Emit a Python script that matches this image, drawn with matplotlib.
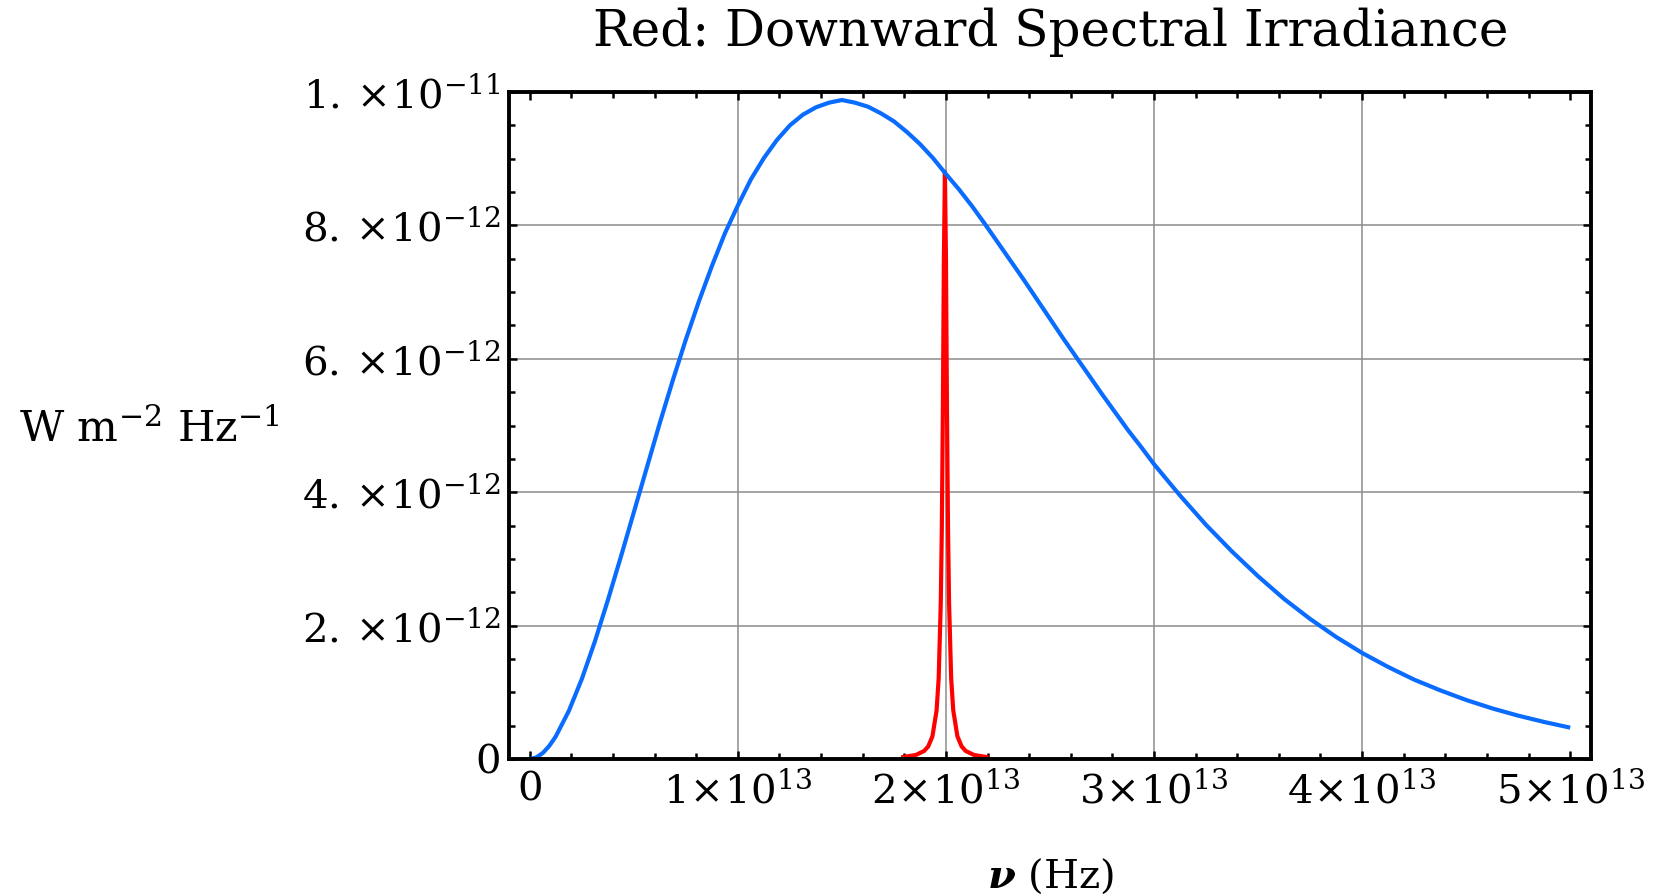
import numpy as np
import matplotlib
matplotlib.use('Agg')
import matplotlib.pyplot as plt
from matplotlib.ticker import FixedLocator, MultipleLocator

plt.rcParams['font.family'] = ['DejaVu Serif']
plt.rcParams['mathtext.fontset'] = 'dejavuserif'

# frequency in units of 1e13 Hz, irradiance in units of 1e-12 W m^-2 Hz^-1
nu_blue = [0, 0.03125, 0.0625, 0.09375, 0.125, 0.1875, 0.25, 0.3125, 0.375, 0.4375, 0.5,
           0.5625, 0.625, 0.6875, 0.75, 0.8125, 0.875, 0.9375, 1.0,
           1.0625, 1.125, 1.1875, 1.25, 1.3125, 1.375, 1.4375, 1.5, 1.5625,
           1.625, 1.6875, 1.75, 1.8125, 1.875, 1.9375, 2.0, 2.0625, 2.125,
           2.1875, 2.25, 2.3125, 2.375, 2.4375, 2.5, 2.5625, 2.625, 2.6875,
           2.75, 2.8125, 2.875, 2.9375, 3.0, 3.125, 3.25, 3.375, 3.5, 3.625,
           3.75, 3.875, 4.0, 4.125, 4.25, 4.375, 4.5, 4.625, 4.75, 4.875, 5.0]
irr_blue = [0, 0.023, 0.09, 0.197, 0.34, 0.72, 1.20, 1.76, 2.38, 3.03, 3.70,
            4.37, 5.04, 5.68, 6.29, 6.86, 7.39, 7.88, 8.30,
            8.69, 9.01, 9.28, 9.50, 9.66, 9.77, 9.84, 9.88, 9.84,
            9.78, 9.68, 9.56, 9.40, 9.22, 9.01, 8.77, 8.54, 8.29,
            8.02, 7.74, 7.46, 7.18, 6.89, 6.60, 6.31, 6.03, 5.75,
            5.47, 5.20, 4.93, 4.68, 4.42, 3.95, 3.51, 3.11, 2.74, 2.40,
            2.10, 1.83, 1.59, 1.38, 1.19, 1.03, 0.885, 0.759, 0.650, 0.555, 0.47]

nu_red = [1.795, 1.855, 1.895, 1.915, 1.935, 1.955, 1.965, 1.975, 1.98,
          1.985, 1.99, 1.995, 2.0, 2.005, 2.01, 2.015, 2.025, 2.035, 2.055,
          2.075, 2.095, 2.135, 2.195]
irr_red = [0.03, 0.06, 0.12, 0.19, 0.34, 0.73, 1.21, 2.33, 3.43,
           5.19, 7.50, 8.80, 7.50, 5.19, 3.43, 2.33, 1.21, 0.73, 0.34,
           0.19, 0.12, 0.06, 0.03]

xticks = [0, 1, 2, 3, 4, 5]
xtick_labels = ['0', r'$1\!\times\!10^{13}$', r'$2\!\times\!10^{13}$', r'$3\!\times\!10^{13}$',
                r'$4\!\times\!10^{13}$', r'$5\!\times\!10^{13}$']
yticks = [0, 2, 4, 6, 8, 10]
ytick_labels = ['0', r'$2.\times\!10^{-12}$', r'$4.\times\!10^{-12}$', r'$6.\times\!10^{-12}$',
                r'$8.\times\!10^{-12}$', r'$1.\times\!10^{-11}$']

x_b = np.array(nu_blue) * 1e13
y_b = np.array(irr_blue) * 1e-12
x_r = np.array(nu_red) * 1e13
y_r = np.array(irr_red) * 1e-12

fig = plt.figure(figsize=(16.65, 8.96), dpi=100)
ax = fig.add_axes([509 / 1665, 1 - 759 / 896, 1082 / 1665, 667 / 896])

ax.plot(x_r, y_r, color='#ff0000', lw=3, zorder=3)
ax.plot(x_b, y_b, color='#0a6cff', lw=3, zorder=4, solid_capstyle='butt')

ax.set_xlim(-0.1e13, 5.1e13)
ax.set_ylim(0, 1.0e-11)

ax.xaxis.set_major_locator(FixedLocator([v * 1e13 for v in xticks]))
ax.set_xticklabels(xtick_labels)
ax.xaxis.set_minor_locator(MultipleLocator(0.2e13))
ax.yaxis.set_major_locator(FixedLocator([v * 1e-12 for v in yticks]))
ax.set_yticklabels(ytick_labels)
ax.yaxis.set_minor_locator(MultipleLocator(0.5e-12))

# grid only on interior majors
for v in xticks[1:5]:
    ax.axvline(v * 1e13, color='#8c8c8c', lw=1.1, zorder=1)
for v in yticks[1:5]:
    ax.axhline(v * 1e-12, color='#8c8c8c', lw=1.1, zorder=1)

ax.tick_params(which='both', direction='in', top=True, right=True,
               width=1.8, color='black', labelsize=29)
ax.tick_params(which='major', length=6)
ax.tick_params(which='minor', length=4)
ax.tick_params(axis='x', which='major', pad=9)
ax.tick_params(axis='y', which='major', pad=6)
for s in ax.spines.values():
    s.set_linewidth(2.8)
    s.set_zorder(5)

fig.text(1051 / 1665, 1 - 32 / 896, 'Red: Downward Spectral Irradiance',
         ha='center', va='center', fontsize=36)
fig.text(1051 / 1665, 1 - 876 / 896, r'$\boldsymbol{\nu}$ (Hz)',
         ha='center', va='center', fontsize=29)
fig.text(19 / 1665, 1 - 430 / 896, r'W m$^{-2}$ Hz$^{-1}$',
         ha='left', va='center', fontsize=31)

fig.savefig('out.png', dpi=100)
